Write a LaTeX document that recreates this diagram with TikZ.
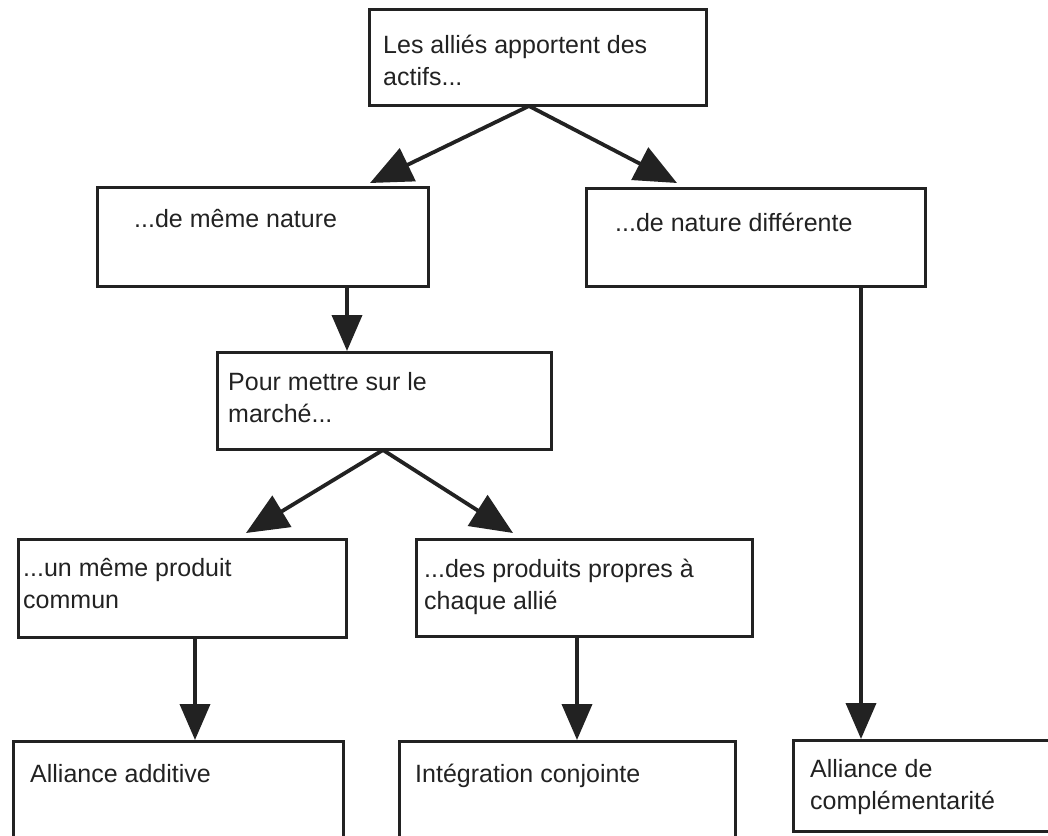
\documentclass[tikz,border=0pt]{standalone}
\usepackage{fontspec}
\setmainfont{Liberation Sans}
\usetikzlibrary{arrows.meta}
\definecolor{ink}{HTML}{222222}
\begin{document}
\begin{tikzpicture}[x=1pt,y=-1pt,
  box/.style={draw=ink, line width=3pt, inner sep=0pt, outer sep=0pt, anchor=north west},
  lbl/.style={anchor=base west, inner sep=0pt, text=ink, font=\fontsize{25}{32}\selectfont},
  arr/.style={draw=ink, line width=3.8pt, -{Triangle[length=36pt,width=30pt]}},
  slant/.style={arr, -{Triangle[length=42pt,width=36pt]}}]
\useasboundingbox (0,0) rectangle (1048,835);
\clip (0,0) rectangle (1048,835);

% boxes
\node[box, minimum width=337pt, minimum height=96pt] (top) at (369,9) {};
\node[box, minimum width=331pt, minimum height=99pt] (same) at (97,187) {};
\node[box, minimum width=339pt, minimum height=98pt] (diff) at (586,188) {};
\node[box, minimum width=334pt, minimum height=97pt] (market) at (217,352) {};
\node[box, minimum width=328pt, minimum height=98pt] (common) at (18,539) {};
\node[box, minimum width=336pt, minimum height=97pt] (own) at (416,539) {};
\node[box, minimum width=330pt, minimum height=130pt] (additive) at (13,741) {};
\node[box, minimum width=336pt, minimum height=130pt] (joint) at (399,741) {};
\node[box, minimum width=290pt, minimum height=91pt] (compl) at (793,740) {};

% texts
\node[lbl] (t1a) at (383,53) {Les alliés apportent des};
\node[lbl] (t1b) at (383,85) {actifs...};
\node[lbl] (t2) at (134,227) {...de même nature};
\node[lbl] (t3) at (615,231) {...de nature différente};
\node[lbl] (t4a) at (228,390) {Pour mettre sur le};
\node[lbl] (t4b) at (228,422) {marché...};
\node[lbl] (t5a) at (23,576) {...un même produit};
\node[lbl] (t5b) at (23,608) {commun};
\node[lbl] (t6a) at (424,577) {...des produits propres à};
\node[lbl] (t6b) at (424,609) {chaque allié};
\node[lbl] (t7) at (30,782) {Alliance additive};
\node[lbl] (t8) at (415,782) {Intégration conjointe};
\node[lbl] (t9a) at (810,777) {Alliance de};
\node[lbl] (t9b) at (810,809) {complémentarité};

% connector ends
\coordinate (o1) at (529,106);
\coordinate (e2) at (370,183);
\coordinate (e3) at (677,183);
\coordinate (s2) at (347,286);
\coordinate (e4) at (347,351);
\coordinate (o4) at (383,450);
\coordinate (e5) at (246,533);
\coordinate (e6) at (513,533);
\coordinate (s5) at (195,637);
\coordinate (e7) at (195,740);
\coordinate (s6) at (577,636);
\coordinate (e8) at (577,740);
\coordinate (s3) at (861,286);
\coordinate (e9) at (861,739);

% connectors
\draw[slant] (o1) -- (e2);
\draw[slant] (o1) -- (e3);
\draw[arr] (s2) -- (e4);
\draw[slant] (o4) -- (e5);
\draw[slant] (o4) -- (e6);
\draw[arr] (s5) -- (e7);
\draw[arr] (s6) -- (e8);
\draw[arr] (s3) -- (e9);
\end{tikzpicture}
\end{document}
